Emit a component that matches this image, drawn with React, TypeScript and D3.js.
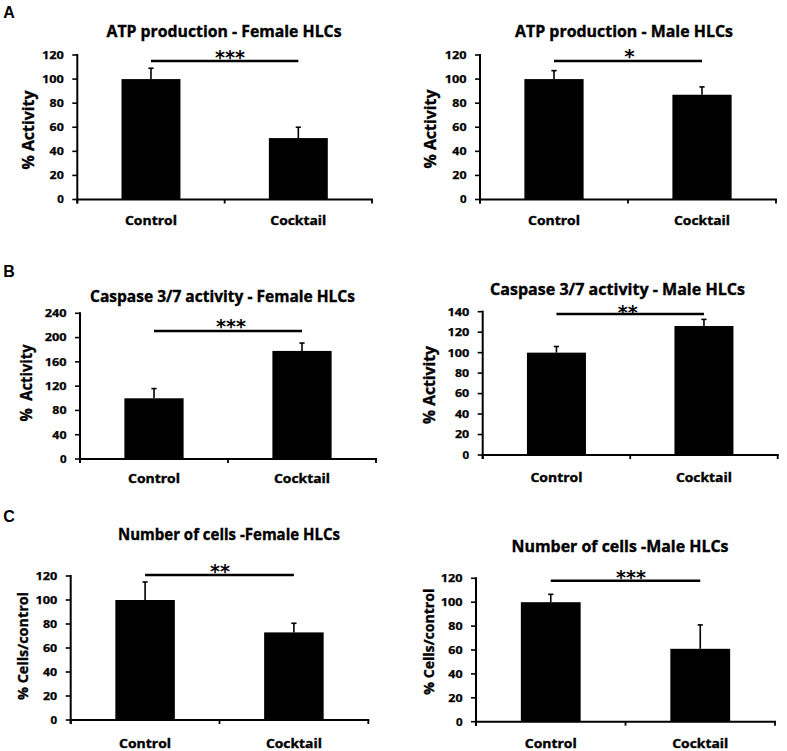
import React from "react";
import * as d3 from "d3";

// ---------- data ----------
const categories = ["Control", "Cocktail"];
const panelLetters = ["A", "B", "C"];
const panelTitles = [
  "ATP production - Female HLCs",
  "ATP production - Male HLCs",
  "Caspase 3/7 activity - Female HLCs",
  "Caspase 3/7 activity - Male HLCs",
  "Number of cells -Female HLCs",
  "Number of cells -Male HLCs",
];
const yAxisLabels = [
  "% Activity",
  "% Activity",
  "%  Activity",
  "% Activity",
  "% Cells/control",
  "% Cells/control",
];
const significance = ["***", "*", "***", "**", "**", "***"];

const atpFemaleMeans = [100, 51];
const atpFemaleErrors = [9, 9];
const atpMaleMeans = [100, 87];
const atpMaleErrors = [7, 6.5];
const caspaseFemaleMeans = [100, 178];
const caspaseFemaleErrors = [16, 13];
const caspaseMaleMeans = [100, 126];
const caspaseMaleErrors = [6, 6.5];
const cellsFemaleMeans = [100, 73];
const cellsFemaleErrors = [15, 7.6];
const cellsMaleMeans = [100, 61];
const cellsMaleErrors = [6.6, 20];

const ticks0to120 = [0, 20, 40, 60, 80, 100, 120];
const ticks0to240 = [0, 40, 80, 120, 160, 200, 240];
const ticks0to140 = [0, 20, 40, 60, 80, 100, 120, 140];

const panelMeans = [atpFemaleMeans, atpMaleMeans, caspaseFemaleMeans, caspaseMaleMeans, cellsFemaleMeans, cellsMaleMeans];
const panelErrors = [atpFemaleErrors, atpMaleErrors, caspaseFemaleErrors, caspaseMaleErrors, cellsFemaleErrors, cellsMaleErrors];
const panelTicks = [ticks0to120, ticks0to120, ticks0to240, ticks0to140, ticks0to120, ticks0to120];

// ---------- layout (pixels) ----------
const layouts = [
  { x0: 77.3, x1: 372, y0: 199.5, yTop: 55, tX: 224, tY: 37, tW: 235, lX: 28, lY: 130, lW: 79, cY: 225, sigY: 61, sX: 230, sY: 52.5 },
  { x0: 480, x1: 776, y0: 199.5, yTop: 55, tX: 624, tY: 37, tW: 218, lX: 430, lY: 129, lW: 79, cY: 225, sigY: 61, sX: 629.5, sY: 51.7 },
  { x0: 80, x1: 376, y0: 459, yTop: 313.3, tX: 222.5, tY: 301.7, tW: 265, lX: 26, lY: 383, lW: 77, cY: 483, sigY: 331, sX: 231, sY: 321.5 },
  { x0: 482.7, x1: 777.7, y0: 455, yTop: 311.7, tX: 617.5, tY: 295, tW: 255, lX: 429, lY: 385, lW: 78, cY: 481.7, sigY: 314, sX: 627.7, sY: 307 },
  { x0: 70.7, x1: 368.3, y0: 720, yTop: 576, tX: 229, tY: 540, tW: 222, lX: 22, lY: 646, lW: 108, cY: 748.3, sigY: 575, sX: 220, sY: 566 },
  { x0: 476, x1: 775, y0: 721.7, yTop: 578.3, tX: 620, tY: 551.7, tW: 217, lX: 428.5, lY: 641.7, lW: 106, cY: 748.3, sigY: 580.7, sX: 631, sY: 572 },
];
const letterPos = [
  { x: 3.3, y: 18.3 },
  { x: 3.3, y: 276.7 },
  { x: 3.3, y: 521.7 },
];

const FONT = "'Open Sans', Lato, sans-serif";
const catWidths = [52, 56];
const TS = { stroke: "#000", strokeWidth: 0.35 };

function Panel({ idx }: { idx: number }) {
  const L = layouts[idx];
  const means = panelMeans[idx];
  const errs = panelErrors[idx];
  const ticks = panelTicks[idx];
  const yMax = ticks[ticks.length - 1];
  const p = 0.6;
  const x = d3.scaleBand<string>().domain(categories).range([L.x0, L.x1]).paddingInner(p).paddingOuter(p / 2);
  const y = d3.scaleLinear().domain([0, yMax]).range([L.y0, L.yTop]);
  const bw = x.bandwidth();
  const step = x.step();
  const boundaries = [L.x0, L.x0 + step, L.x1];
  const stars = significance[idx];
  const c0 = (x(categories[0]) as number) + bw / 2;
  const c1 = (x(categories[1]) as number) + bw / 2;
  return (
    <g>
      <text x={L.tX} y={L.tY} textAnchor="middle" fontFamily={FONT} fontWeight={700} fontSize={15.3}
        textLength={L.tW} lengthAdjust="spacingAndGlyphs" {...TS}>{panelTitles[idx]}</text>
      {categories.map((c, i) => {
        const bx = x(c) as number;
        const cx = bx + bw / 2;
        const top = y(means[i]);
        const et = y(means[i] + errs[i]);
        return (
          <g key={c}>
            <line x1={cx} x2={cx} y1={top} y2={et} stroke="#000" strokeWidth={1.6} />
            <line x1={cx - 2.6} x2={cx + 2.6} y1={et} y2={et} stroke="#000" strokeWidth={1.6} />
            <rect x={bx} y={top} width={bw} height={L.y0 - top} fill="#000" />
          </g>
        );
      })}
      <line x1={L.x0} x2={L.x0} y1={L.yTop - 1} y2={L.y0 + 4} stroke="#000" strokeWidth={2} />
      {ticks.map((t) => (
        <g key={t}>
          <line x1={L.x0 - 5} x2={L.x0} y1={y(t)} y2={y(t)} stroke="#000" strokeWidth={1.6} />
          <text x={L.x0 - 13.5} y={y(t) + 3.9} textAnchor="end" fontFamily={FONT} fontWeight={700} fontSize={11}
            textLength={String(t).length * 7.6 - 1} lengthAdjust="spacingAndGlyphs" stroke="#000" strokeWidth={0.25}>{t}</text>
        </g>
      ))}
      <line x1={L.x0 - 1} x2={L.x1 + 1} y1={L.y0} y2={L.y0} stroke="#000" strokeWidth={2} />
      {boundaries.map((b, i) => (
        <line key={i} x1={b} x2={b} y1={L.y0} y2={L.y0 + 4} stroke="#000" strokeWidth={1.8} />
      ))}
      {categories.map((c, i) => (
        <text key={c} x={(x(c) as number) + bw / 2} y={L.cY} textAnchor="middle" fontFamily={FONT} fontWeight={700}
          fontSize={12.2} textLength={catWidths[i]} lengthAdjust="spacingAndGlyphs" {...TS}>{c}</text>
      ))}
      <text transform={`translate(${L.lX},${L.lY}) rotate(-90)`} textAnchor="middle" dominantBaseline="central"
        fontFamily={FONT} fontWeight={700} fontSize={idx >= 4 ? 14.5 : 15.5} textLength={L.lW}
        lengthAdjust="spacingAndGlyphs" style={{ whiteSpace: "pre" }} {...TS}>{yAxisLabels[idx]}</text>
      <line x1={c0} x2={c1} y1={L.sigY} y2={L.sigY} stroke="#000" strokeWidth={2.6} />
      <text x={L.sX} y={L.sY + 11.5} textAnchor="middle" fontFamily="'DejaVu Sans', sans-serif" fontWeight={700}
        fontSize={20} textLength={stars.length > 1 ? stars.length * 10 : undefined}
        lengthAdjust="spacingAndGlyphs">{stars}</text>
    </g>
  );
}

export default function App() {
  return (
    <svg width={787} height={751} style={{ position: "absolute", left: 0, top: 0, background: "#fff" }}>
      <rect width={787} height={751} fill="#fff" />
      {panelLetters.map((l, i) => (
        <text key={l} x={letterPos[i].x} y={letterPos[i].y} fontFamily="'Liberation Sans', Arial, sans-serif"
          fontWeight={700} fontSize={16}>{l}</text>
      ))}
      {layouts.map((_, i) => (
        <Panel key={i} idx={i} />
      ))}
    </svg>
  );
}
